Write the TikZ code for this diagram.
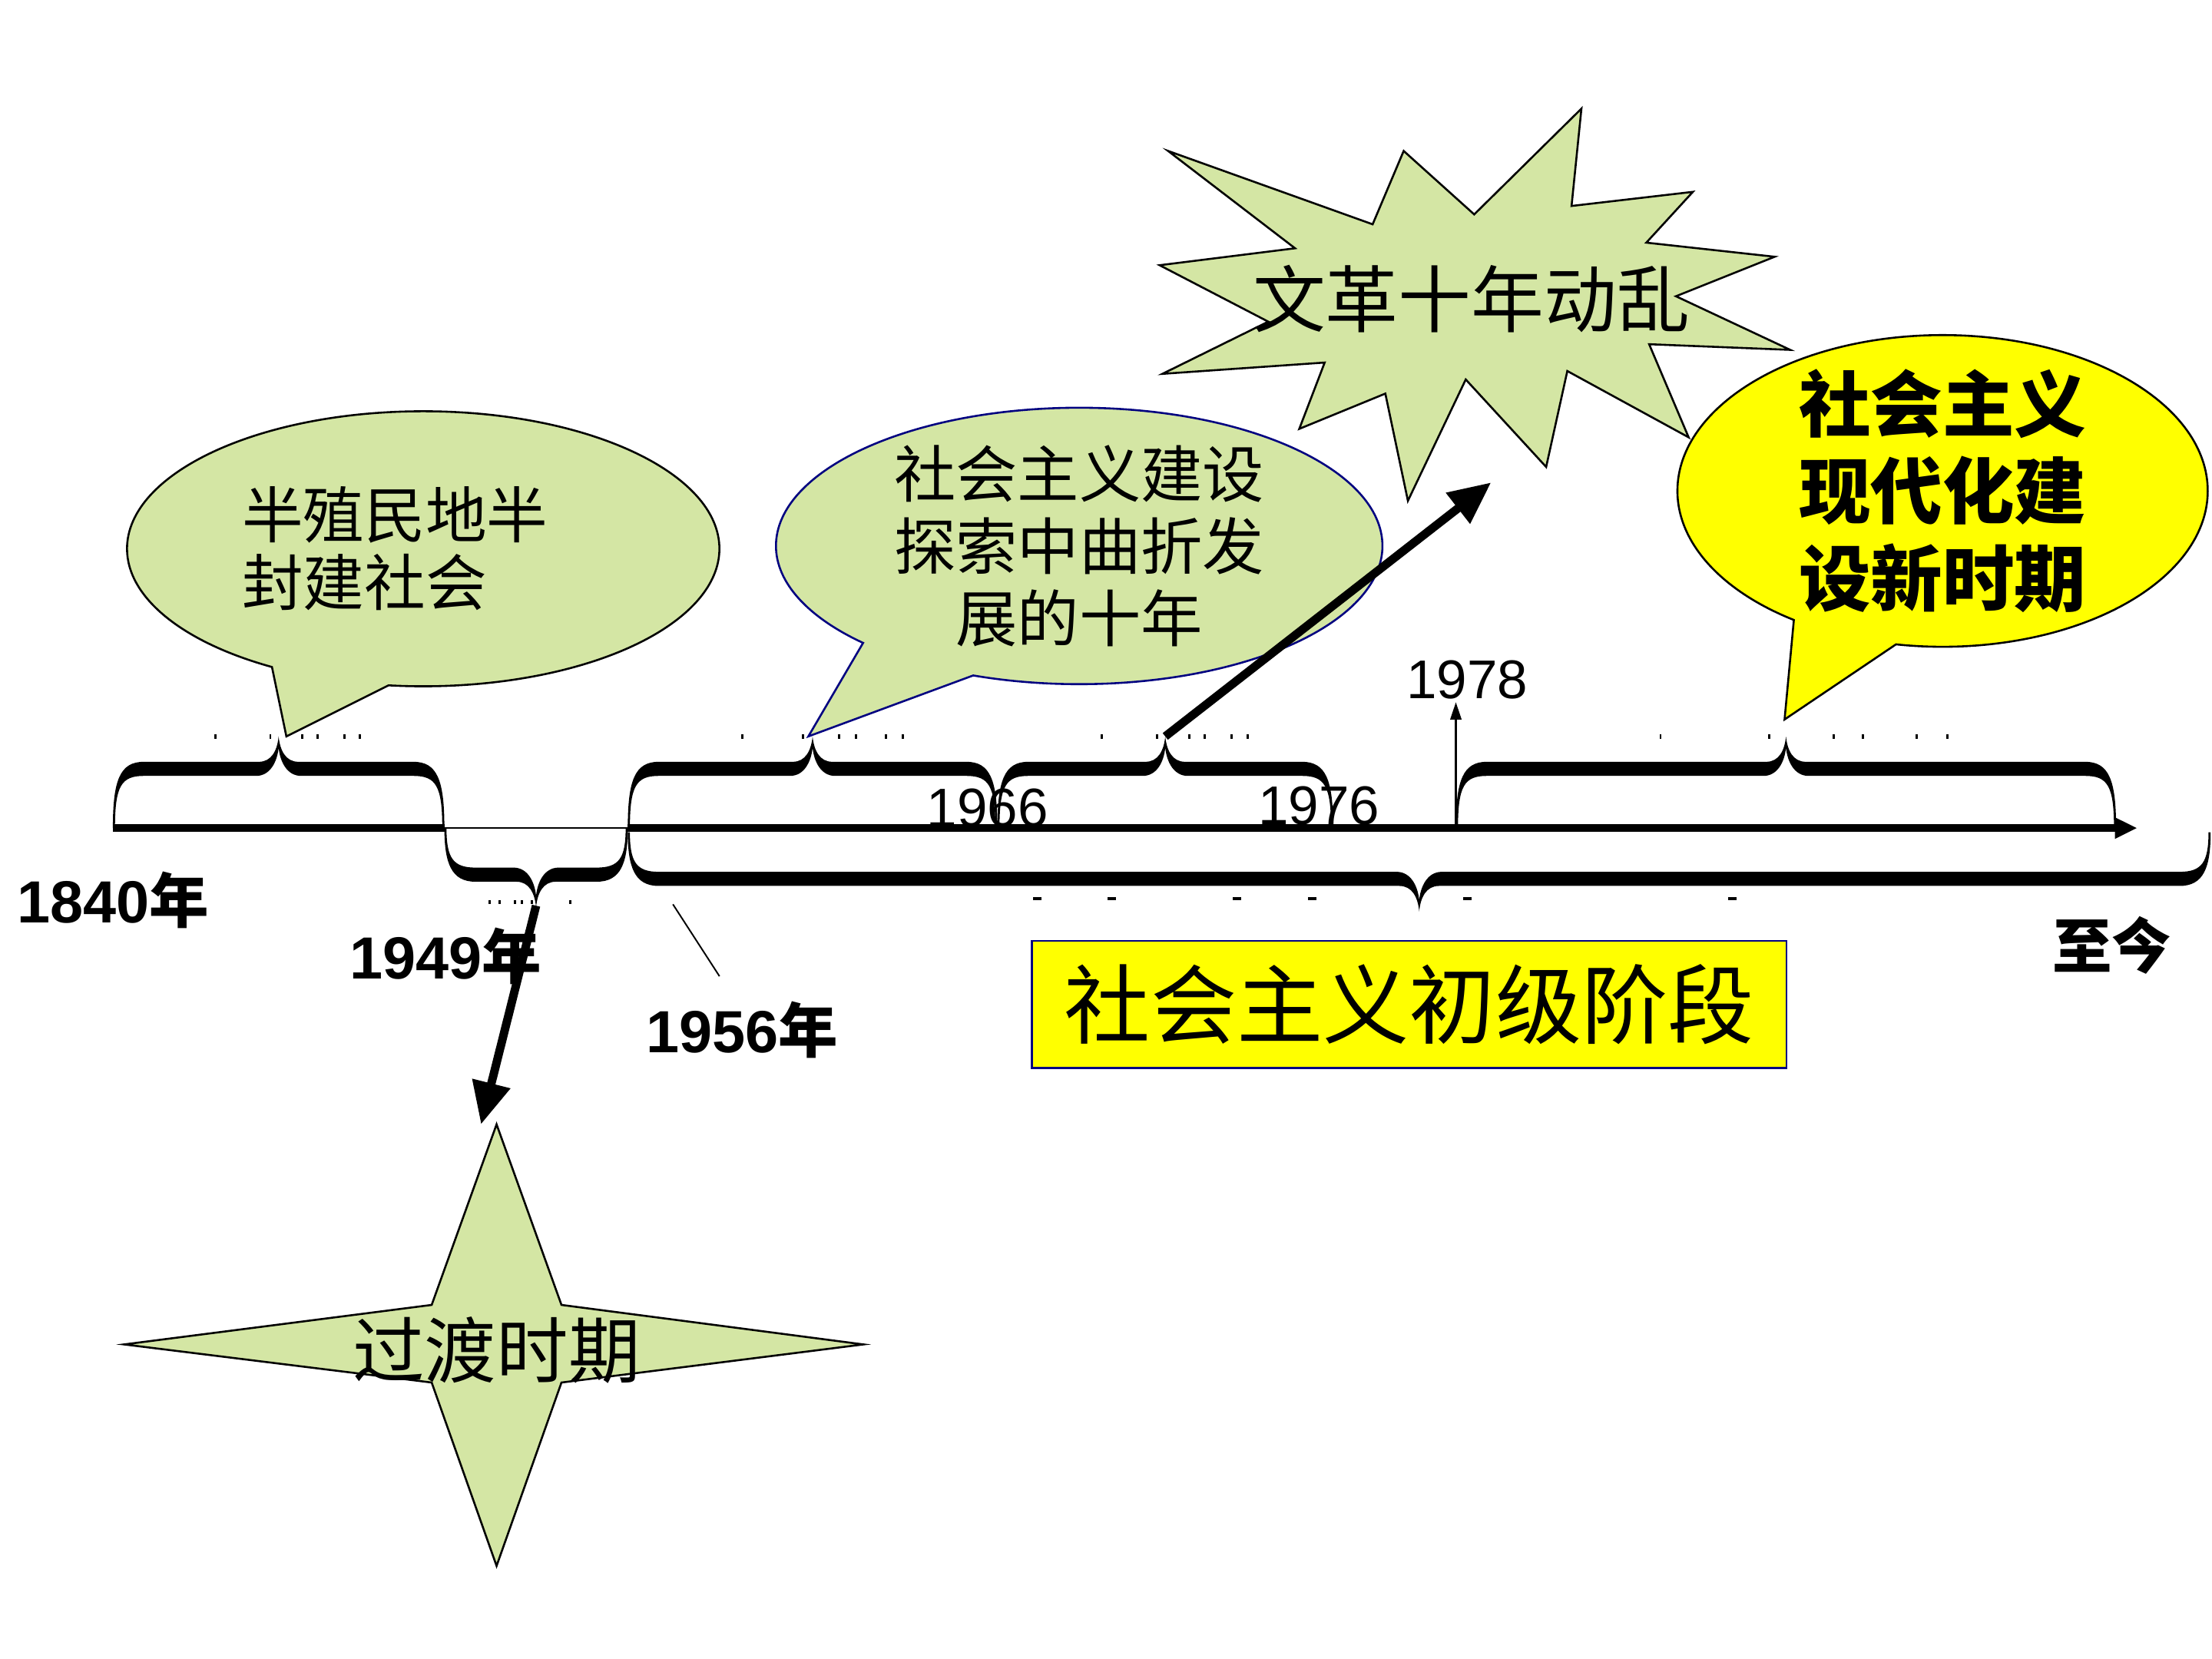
\documentclass[tikz,border=0pt]{standalone}
\usepackage{fontspec}
\setmainfont{Liberation Sans}
\newfontfamily\cjk{Noto Sans CJK SC}
\usetikzlibrary{arrows.meta,shapes.callouts,positioning}
\definecolor{LeafClr}{RGB}{212,230,164}
\definecolor{SunClr}{RGB}{255,255,0}
\definecolor{NavyClr}{RGB}{0,0,128}

% calligraphic brace: left x, right x, base y, -1 up / 1 down, depth of the flat part
\newcommand{\CalBrace}[5]{%
  \pgfmathsetmacro{\BrMid}{(#1+#2)/2}%
  \fill (#1,#3) .. controls (#1,{#3+(#4)*(#5-8)}) and ({#1+5},{#3+(#4)*(#5+5)}) .. ({#1+22},{#3+(#4)*(#5+5)})
   -- ({\BrMid-14},{#3+(#4)*(#5+5)}) .. controls ({\BrMid-5},{#3+(#4)*(#5+5)}) and ({\BrMid-1},{#3+(#4)*(#5+13)}) .. (\BrMid,{#3+(#4)*(#5+23)})
   .. controls ({\BrMid+1},{#3+(#4)*(#5+13)}) and ({\BrMid+5},{#3+(#4)*(#5+5)}) .. ({\BrMid+14},{#3+(#4)*(#5+5)})
   -- ({#2-22},{#3+(#4)*(#5+5)}) .. controls ({#2-5},{#3+(#4)*(#5+5)}) and (#2,{#3+(#4)*(#5-8)}) .. (#2,#3)
   -- ({#2-1.5},#3) .. controls ({#2-1.5},{#3+(#4)*(#5-12)}) and ({#2-6},{#3+(#4)*(#5-5)}) .. ({#2-22},{#3+(#4)*(#5-5)})
   -- ({\BrMid+16},{#3+(#4)*(#5-5)}) .. controls ({\BrMid+6},{#3+(#4)*(#5-5)}) and ({\BrMid+1},{#3+(#4)*(#5+5)}) .. (\BrMid,{#3+(#4)*(#5+15)})
   .. controls ({\BrMid-1},{#3+(#4)*(#5+5)}) and ({\BrMid-6},{#3+(#4)*(#5-5)}) .. ({\BrMid-16},{#3+(#4)*(#5-5)})
   -- ({#1+22},{#3+(#4)*(#5-5)}) .. controls ({#1+6},{#3+(#4)*(#5-5)}) and ({#1+1.5},{#3+(#4)*(#5-12)}) .. ({#1+1.5},#3) -- cycle;}

\tikzset{
  FatArrow/.style={line width=3.4pt,-{Triangle[length=17pt,width=15pt]}},
  ThinArrow/.style={line width=0.7pt,-{Triangle[length=7pt,width=4.5pt]}},
  Bubble/.style={ellipse callout,draw,line width=0.8pt,fill=LeafClr,inner sep=0pt},
  YearLbl/.style={font=\fontsize{24}{28}\selectfont\bfseries,inner sep=1pt},
  DateLbl/.style={font=\fontsize{22}{26}\selectfont,inner sep=1pt}
}

\begin{document}
\begin{tikzpicture}[x=0.02cm,y=-0.02cm]
\useasboundingbox (0,0) rectangle (1568,1176);

% time axis
\coordinate (t1840) at (80,587);
\coordinate (t1949) at (315,587);
\coordinate (t1956) at (445,587);
\coordinate (t1978) at (1032,587);
\coordinate (tEnd) at (1515,587);
\draw[line width=3pt] (t1840) -- (t1949);
\draw[line width=0.8pt] (t1949) -- (t1956);
\draw[line width=3pt,-{Triangle[length=9pt,width=8pt]}] (t1956) -- (tEnd);

% speech bubbles
\node[Bubble,minimum width=8.4cm,minimum height=3.9cm,callout pointer arc=24,
  callout absolute pointer={(203,522)},align=left,
  font=\cjk\fontsize{24.7}{27.3}\selectfont] (semi) at (300,389) {半殖民地半\hspace*{0.8cm}\\封建社会};
\node[Bubble,draw=NavyClr,minimum width=8.6cm,minimum height=3.92cm,callout pointer arc=25,
  callout absolute pointer={(573,522)},align=center,inner sep=-6pt,
  font=\cjk\fontsize{24.9}{29}\selectfont] (build) at (765,387) {社会主义建设\\探索中曲折发\\展的十年};

% burst
\filldraw[fill=LeafClr,line width=0.8pt] (828,107) -- (973,159) -- (995,107) -- (1045,152)
  -- (1121,77) -- (1114,146) -- (1200,136) -- (1167,172) -- (1258,182) -- (1188,210)
  -- (1269,248) -- (1169,244) -- (1197,310) -- (1111,263) -- (1096,331) -- (1039,269)
  -- (998,355) -- (982,279) -- (921,304) -- (939,257) -- (824,265) -- (899,228)
  -- (822,188) -- (918,176) -- cycle;
\node[font=\cjk\fontsize{29.4}{34}\selectfont] (riot) at (1043,212) {文革十年动乱};

\node[Bubble,fill=SunClr,minimum width=7.52cm,minimum height=4.42cm,callout pointer arc=24,
  callout absolute pointer={(1265,510)},align=center,inner sep=-10pt,
  font=\cjk\bfseries\fontsize{29}{35.3}\selectfont] (reform) at (1377,348) {社会主义\\现代化建\\设新时期};

\node[draw=NavyClr,fill=SunClr,line width=0.8pt,minimum width=10.7cm,minimum height=1.8cm,
  font=\cjk\fontsize{34.8}{40}\selectfont] (stage) at (999,712) {社会主义初级阶段};

% four point star
\filldraw[fill=LeafClr,line width=0.8pt] (352,797) -- (398,925) -- (612,953) -- (398,980)
  -- (352,1110) -- (306,980) -- (88,953) -- (306,925) -- cycle;
\node[font=\cjk\fontsize{29}{34}\selectfont] (trans) at (352,957) {过渡时期};

% year labels
\node[YearLbl] (y1840) at (80,638) {1840{\cjk 年}};
\node[YearLbl] (y1949) at (316,678) {1949{\cjk 年}};
\node[YearLbl] (y1956) at (526,730) {1956{\cjk 年}};
\node[DateLbl] (y1966) at (700,573) {1966};
\node[DateLbl] (y1976) at (935,571) {1976};
\node[DateLbl] (y1978) at (1040,482) {1978};
\node[YearLbl] (now) at (1497,670) {{\cjk 至今}};

% braces
\CalBrace{80}{315}{587}{-1}{42}
\CalBrace{315}{445}{587}{1}{33}
\CalBrace{445}{707}{587}{-1}{42}
\CalBrace{707}{945}{587}{-1}{42}
\CalBrace{1032}{1500}{587}{-1}{42}
\CalBrace{445}{1567}{590}{1}{33}

% specks near the brace tips
\foreach \a/\b in {80/315,445/707,707/945,1032/1500}
  \foreach \f in {-0.19,-0.025,0.072,0.117,0.198,0.245}
    \fill ({(\a+\b)/2+\f*(\b-\a)-0.8},520.5) rectangle ++(1.6,3);
\foreach \x in {347,354,365,370,377,404}
  \fill ({\x-0.8},638) rectangle ++(1.6,3);
\foreach \x in {735,788,877,930,1040,1228}
  \fill ({\x-3},636) rectangle ++(6,2.2);

% pointers
\coordinate (tipB) at (380,642);
\coordinate (tipD) at (826,522);
\coordinate (riotend) at (1057,342);
\coordinate (transend) at (341,797);
\draw[FatArrow] (tipD) -- (riotend);
\draw[FatArrow] (tipB) -- (transend);
\draw[ThinArrow] (t1978) -- (t1978 |- y1978.south);
\coordinate (lead1) at (477,641);
\coordinate (lead2) at (510,692);
\draw[line width=0.6pt] (lead1) -- (lead2);
\end{tikzpicture}
\end{document}
